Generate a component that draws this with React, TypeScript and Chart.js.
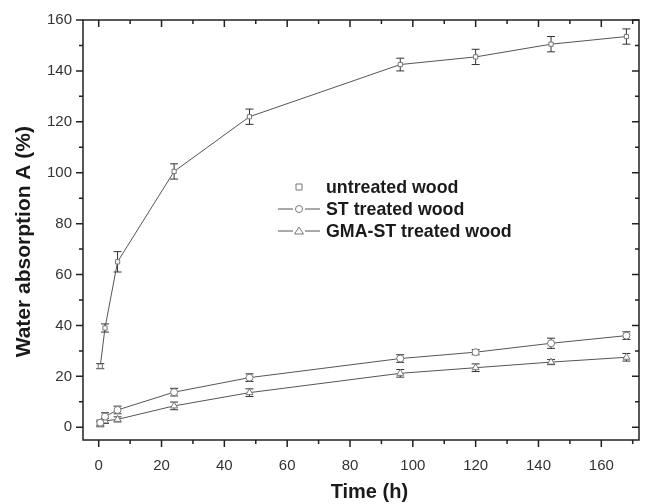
import React, { useEffect, useRef } from "react";
import { Chart, registerables } from "chart.js";

Chart.register(...registerables);

// ---- data ----
const times = [0.5, 2, 6, 24, 48, 96, 120, 144, 168];
const untreatedWood = [24, 39, 65, 100.5, 122, 142.5, 145.5, 150.5, 153.5];
const untreatedErr = [1, 1.6, 4, 3, 3, 2.5, 3, 3, 3];
const stTreatedWood = [1.8, 4.2, 6.8, 13.8, 19.5, 27, 29.5, 33, 36];
const stErr = [1, 1.5, 1.5, 1.5, 1.5, 1.5, 1, 2, 1.5];
const gmaStTreatedWood = [1.2, 2.5, 3.1, 8.4, 13.6, 21.2, 23.4, 25.6, 27.5];
const gmaErr = [1, 1, 1, 1.5, 1.5, 1.5, 1.5, 1, 1.5];

const seriesLabels = ["untreated wood", "ST treated wood", "GMA-ST treated wood"];
const xTickValues = [0, 20, 40, 60, 80, 100, 120, 140, 160];
const yTickValues = [0, 20, 40, 60, 80, 100, 120, 140, 160];
const xMinorTicks = [10, 30, 50, 70, 90, 110, 130, 150, 170];
const yMinorTicks = [10, 30, 50, 70, 90, 110, 130, 150];

const FONT = '"Liberation Sans", Arial, Helvetica, sans-serif';
const AXIS = "#222";
const LINE = "#555";
const MARK = "#777";
const NB = "\u00A0";

const errors = [untreatedErr, stErr, gmaErr];

const errorBarPlugin = {
  id: "errorBars",
  beforeDatasetsDraw(chart: any) {
    const { ctx, scales } = chart;
    const x = scales.x;
    const y = scales.y;
    ctx.save();
    ctx.strokeStyle = "#333";
    ctx.lineWidth = 1;
    chart.data.datasets.forEach((ds: any, di: number) => {
      ds.data.forEach((p: any, i: number) => {
        const e = errors[di][i];
        const px = x.getPixelForValue(p.x);
        const yt = y.getPixelForValue(p.y + e);
        const yb = y.getPixelForValue(p.y - e);
        const cap = 4;
        ctx.beginPath();
        ctx.moveTo(px, yt);
        ctx.lineTo(px, yb);
        ctx.moveTo(px - cap, yt);
        ctx.lineTo(px + cap, yt);
        ctx.moveTo(px - cap, yb);
        ctx.lineTo(px + cap, yb);
        ctx.stroke();
      });
    });
    ctx.restore();
  },
};

const framePlugin = {
  id: "frame",
  afterDraw(chart: any) {
    const { ctx, chartArea, scales } = chart;
    const { left, right, top, bottom } = chartArea;
    const x = scales.x;
    const y = scales.y;
    ctx.save();
    ctx.strokeStyle = AXIS;
    ctx.lineWidth = 1.5;
    ctx.strokeRect(left, top, right - left, bottom - top);
    const drawX = (v: number, len: number) => {
      const px = x.getPixelForValue(v);
      ctx.beginPath();
      ctx.moveTo(px, bottom);
      ctx.lineTo(px, bottom + len);
      ctx.moveTo(px, top);
      ctx.lineTo(px, top + len);
      ctx.stroke();
    };
    const drawY = (v: number, len: number) => {
      const py = y.getPixelForValue(v);
      ctx.beginPath();
      ctx.moveTo(left, py);
      ctx.lineTo(left - len, py);
      ctx.moveTo(right, py);
      ctx.lineTo(right - len, py);
      ctx.stroke();
    };
    xTickValues.forEach((v) => drawX(v, 7));
    xMinorTicks.forEach((v) => drawX(v, 4));
    yTickValues.forEach((v) => drawY(v, 7));
    yMinorTicks.forEach((v) => drawY(v, 4));
    ctx.restore();
  },
};

const legendPlugin = {
  id: "customLegend",
  afterDraw(chart: any) {
    const { ctx } = chart;
    const symX = 299;
    const textX = 326;
    const rows = [187, 209, 231];
    ctx.save();
    ctx.font = `bold 17.8px ${FONT}`;
    ctx.fillStyle = "#1a1a1a";
    ctx.textBaseline = "middle";
    ctx.textAlign = "left";
    chart.data.datasets.forEach((ds: any, i: number) => {
      const yy = rows[i];
      ctx.strokeStyle = LINE;
      ctx.lineWidth = 1;
      if (i > 0) {
        ctx.beginPath();
        ctx.moveTo(symX - 21, yy);
        ctx.lineTo(symX - 6, yy);
        ctx.moveTo(symX + 6, yy);
        ctx.lineTo(symX + 21, yy);
        ctx.stroke();
      }
      ctx.strokeStyle = MARK;
      ctx.beginPath();
      if (ds.pointStyle === "rect") {
        ctx.rect(symX - 3, yy - 3, 6, 6);
      } else if (ds.pointStyle === "circle") {
        ctx.arc(symX, yy, 3.5, 0, Math.PI * 2);
      } else {
        ctx.moveTo(symX, yy - 4);
        ctx.lineTo(symX + 4.5, yy + 3);
        ctx.lineTo(symX - 4.5, yy + 3);
        ctx.closePath();
      }
      ctx.stroke();
      ctx.fillText(ds.label, textX, yy + 1);
    });
    ctx.restore();
  },
};

function toPoints(vals: number[]) {
  return vals.map((v, i) => ({ x: times[i], y: v }));
}

export default function App() {
  const ref = useRef<HTMLCanvasElement | null>(null);
  useEffect(() => {
    if (!ref.current) return;
    const mk = (label: string, data: number[], style: string, r: number) => ({
      label,
      data: toPoints(data),
      borderColor: LINE,
      borderWidth: 1,
      pointStyle: style,
      pointRadius: r,
      pointBorderColor: MARK,
      pointBackgroundColor: "#fff",
      pointBorderWidth: 1,
      fill: false,
      tension: 0,
    });
    const chart = new Chart(ref.current, {
      type: "line",
      data: {
        datasets: [
          mk(seriesLabels[0], untreatedWood, "rect", 3),
          mk(seriesLabels[1], stTreatedWood, "circle", 3.5),
          mk(seriesLabels[2], gmaStTreatedWood, "triangle", 4),
        ],
      },
      options: {
        animation: false,
        responsive: false,
        layout: { padding: { top: 20, right: 13, left: 0, bottom: 0 } },
        plugins: { legend: { display: false }, tooltip: { enabled: false } },
        scales: {
          x: {
            type: "linear",
            min: -5,
            max: 172,
            afterBuildTicks: (s: any) => {
              s.ticks = xTickValues.map((v) => ({ value: v }));
            },
            afterFit: (s: any) => {
              s.height = 64;
            },
            grid: { display: false, drawTicks: false },
            border: { display: false },
            ticks: {
              font: { family: FONT, size: 15 },
              color: "#333",
              padding: 17,
              maxRotation: 0,
              autoSkip: false,
            },
            title: {
              display: true,
              text: NB + NB + NB + "Time (h)",
              font: { family: FONT, size: 20, weight: "bold" },
              color: "#1a1a1a",
              padding: { top: 0, bottom: 0 },
            },
          },
          y: {
            type: "linear",
            min: -5,
            max: 160,
            afterBuildTicks: (s: any) => {
              s.ticks = yTickValues.map((v) => ({ value: v }));
            },
            afterFit: (s: any) => {
              s.width = 83;
            },
            grid: { display: false, drawTicks: false },
            border: { display: false },
            ticks: {
              font: { family: FONT, size: 15 },
              color: "#333",
              padding: 11,
              autoSkip: false,
            },
            title: {
              display: true,
              text: "Water absorption A (%)" + NB + NB + NB + NB,
              font: { family: FONT, size: 21, weight: "bold" },
              color: "#1a1a1a",
              padding: { top: 12, bottom: 0 },
            },
          },
        },
      } as any,
      plugins: [errorBarPlugin, framePlugin, legendPlugin],
    });
    return () => chart.destroy();
  }, []);
  return (
    <div style={{ position: "absolute", left: 0, top: 0, width: 652, height: 504, background: "#fff" }}>
      <canvas ref={ref} width={652} height={504} style={{ display: "block" }} />
    </div>
  );
}
